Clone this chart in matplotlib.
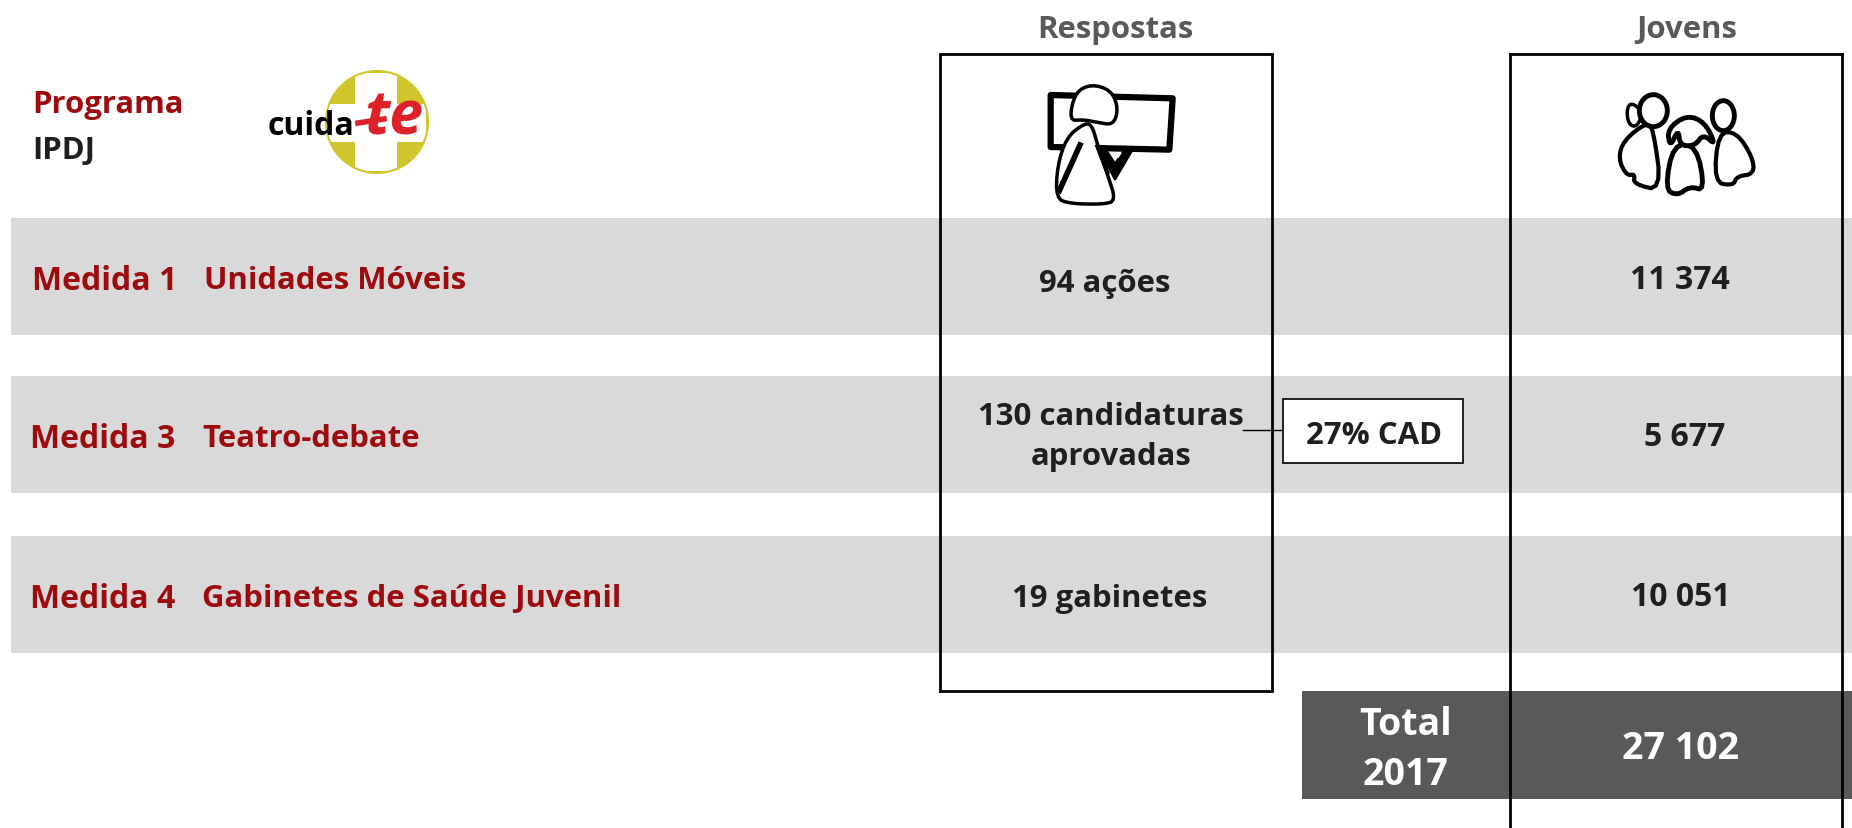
import matplotlib
matplotlib.use('Agg')
import matplotlib.pyplot as plt
from matplotlib.patches import Rectangle, Circle, Polygon, Ellipse
import numpy as np

plt.rcParams['font.family'] = ['Open Sans', 'DejaVu Sans']

medidas = ['Medida 1', 'Medida 3', 'Medida 4']
nomes = ['Unidades Móveis', 'Teatro-debate', 'Gabinetes de Saúde Juvenil']
respostas = ['94 ações', '130 candidaturas\naprovadas', '19 gabinetes']
jovens = ['11 374', '5 677', '10 051']
total_label = 'Total\n2017'
total_value = '27 102'
cad_label = '27% CAD'

RED = '#9E0B0F'
DARK = '#1F1F1F'
BAND = '#D9D9D9'
GREY = '#58595B'
FS = 22.4

W, H = 1852, 829
fig = plt.figure(figsize=(W / 100, H / 100), dpi=100)
ax = fig.add_axes([0, 0, 1, 1])
ax.set_xlim(0, W)
ax.set_ylim(H, 0)
ax.axis('off')

band_top = [219, 377, 537]
band_h = 117
med_x = [32, 30, 30]
nome_x = [204, 202, 202]
med_y = [281, 439, 599]
resp_x = [1105, 1111, 1110]
resp_y = [284, 437, 599]
jov_x = [1680, 1685, 1681]
jov_y = [280, 438, 597]

for i in range(3):
    ax.add_patch(Rectangle((11, band_top[i]), W - 11, band_h, fc=BAND, ec='none', zorder=1))
    ax.text(med_x[i], med_y[i], medidas[i], color=RED, fontsize=23, fontweight='bold', va='center', ha='left', zorder=5)
    ax.text(nome_x[i], med_y[i], nomes[i], color=RED, fontsize=FS, fontweight='bold', va='center', ha='left', zorder=5)
    ax.text(resp_x[i], resp_y[i], respostas[i], color=DARK, fontsize=FS, fontweight='bold', va='center', ha='center', zorder=5, linespacing=1.47)
    ax.text(jov_x[i], jov_y[i], jovens[i], color=DARK, fontsize=23, fontweight='bold', va='center', ha='center', zorder=5)

# header
ax.text(1115, 30, 'Respostas', color=GREY, fontsize=FS, fontweight='bold', va='center', ha='center')
ax.text(1687, 30, 'Jovens', color=GREY, fontsize=FS, fontweight='bold', va='center', ha='center')
ax.text(32, 105, 'Programa', color=RED, fontsize=FS, fontweight='bold', va='center')
ax.text(32, 151, 'IPDJ', color=DARK, fontsize=FS, fontweight='bold', va='center')

# total
ax.add_patch(Rectangle((1302, 692), W - 1302, 108, fc=GREY, ec='none', zorder=2))
ax.text(1406, 750, total_label, color='white', fontsize=27, fontweight='bold', va='center', ha='center', zorder=5, linespacing=1.39)
ax.text(1681, 749, total_value, color='white', fontsize=27, fontweight='bold', va='center', ha='center', zorder=5)

# column frames
ax.add_patch(Rectangle((940, 55), 332, 637, fc='none', ec='black', lw=2, zorder=4))
ax.plot([1510, 1510], [829, 55], color='black', lw=2, zorder=4)
ax.plot([1510, 1842], [55, 55], color='black', lw=2, zorder=4)
ax.plot([1842, 1842], [55, 829], color='black', lw=2, zorder=4)

# CAD box
ax.plot([1243, 1283], [431, 431], color='black', lw=1, zorder=4)
ax.add_patch(Rectangle((1283, 400), 180, 64, fc='white', ec='black', lw=1.2, zorder=4))
ax.text(1374, 436, cad_label, color=DARK, fontsize=FS, fontweight='bold', va='center', ha='center', zorder=5)

# logo
ax.add_patch(Circle((377, 123), 51, fc='#CFC62E', ec='none', zorder=2))
ax.add_patch(Rectangle((355, 74), 42, 98, fc='white', ec='none', zorder=3))
ax.add_patch(Rectangle((328, 105), 98, 38, fc='white', ec='none', zorder=3))
ax.add_patch(Circle((377, 123), 51, fc='none', ec='#CFC62E', lw=1.5, zorder=3))
ax.text(268, 126, 'cuida', color='black', fontsize=23, fontweight='bold', va='center', ha='left', zorder=5)
ax.text(394, 119, 'te', color='#DD2129', fontsize=44, fontweight='bold', style='italic', va='center', ha='center', zorder=6)
ax.plot([358, 384], [124, 120], color='#DD2129', lw=4, zorder=6)


def smooth(pts, n=2):
    # chaikin corner cutting, keeps the hand drawn look of the icons
    a = np.array(pts, dtype=float)
    for _ in range(n):
        b = np.roll(a, -1, axis=0)
        a = np.column_stack([0.75 * a + 0.25 * b, 0.25 * a + 0.75 * b]).reshape(-1, 2)
    return a


def to_px(a, x0, y0):
    a = np.array(a, dtype=float)
    return np.column_stack([x0 + a[:, 0] / 3, y0 + a[:, 1] / 3])


def shape(pts, x0, y0, lw=2.5, fc='white', z=6, soft=True):
    p = smooth(pts) if soft else pts
    ax.add_patch(Polygon(to_px(p, x0, y0), closed=True, fc=fc, ec='black', lw=lw, joinstyle='round', zorder=z))


def blob(cx, cy, rx, ry, x0, y0, lw=3, z=6):
    ax.add_patch(Ellipse((x0 + cx / 3, y0 + cy / 3), 2 * rx / 3, 2 * ry / 3, fc='white', ec='black', lw=lw, zorder=z))


# person at the board
x0, y0 = 1020, 60
shape([(92, 108), (458, 118), (448, 272), (92, 264)], x0, y0, lw=4.5, soft=False)
shape([(235, 262), (285, 360), (338, 270), (318, 268), (285, 315), (250, 262)], x0, y0, lw=2, fc='black', z=7, soft=False)
ax.add_patch(Polygon(to_px([(285, 282), (305, 282), (295, 298)], x0, y0), fc='white', ec='none', zorder=8))
shape([(190, 195), (140, 235), (112, 320), (108, 418), (150, 434), (250, 436), (288, 425), (262, 345),
       (235, 265), (215, 195)], x0, y0, lw=2.5, z=8)
shape([(147, 185), (165, 100), (215, 75), (275, 95), (295, 150), (280, 198), (232, 190), (190, 182)],
      x0, y0, lw=2.5, z=9)
ax.plot(*to_px([(180, 258), (118, 395)], x0, y0).T, color='black', lw=4, zorder=10)
ax.plot(*to_px([(232, 262), (262, 340)], x0, y0).T, color='black', lw=3, zorder=10)

# youngsters
x0, y0 = 1590, 80
shape([(125, 70), (160, 100), (140, 145), (115, 135), (110, 90)], x0, y0, lw=2.5, z=5)
shape([(170, 130), (100, 185), (85, 240), (110, 290), (135, 285), (130, 315), (215, 335), (190, 150)],
      x0, y0, lw=3, z=6)
blob(190, 95, 42, 48, x0, y0, lw=3.5, z=6)
shape([(385, 160), (372, 310), (430, 320), (440, 292), (492, 285), (488, 235), (440, 160)], x0, y0, lw=3, z=6)
blob(400, 110, 33, 45, x0, y0, lw=3.5, z=7)
shape([(250, 195), (225, 330), (262, 350), (300, 322), (345, 335), (320, 200)], x0, y0, lw=3.5, z=7)
shape([(240, 205), (232, 150), (290, 108), (345, 130), (378, 200), (340, 165), (315, 200), (270, 200), (265, 150)],
      x0, y0, lw=3.5, z=8)

fig.savefig('out.png', dpi=100)
